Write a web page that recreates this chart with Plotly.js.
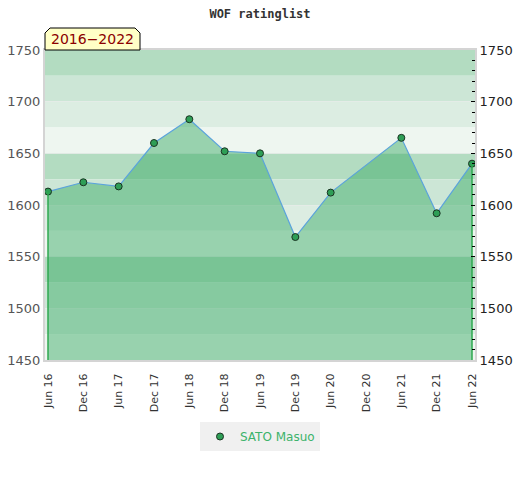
<!DOCTYPE html>
<html><head><meta charset="utf-8">
<script src="https://cdn.plot.ly/plotly-3.0.1.min.js"></script>
<style>html,body{margin:0;padding:0;background:#fff}#c{width:520px;height:480px}</style>
</head><body><div id="c"></div>
<script>
const periods = ['Jun 16','Dec 16','Jun 17','Dec 17','Jun 18','Dec 18','Jun 19','Dec 19','Jun 20','Dec 20','Jun 21','Dec 21','Jun 22'];
const ratings = [1613, 1622, 1618, 1660, 1683, 1652, 1650, 1569, 1612, null, 1665, 1592, 1640];
const playerName = 'SATO Masuo';
const chartTitle = 'WOF ratinglist';
const periodLabel = '2016−2022';
const yTicks = [1450, 1500, 1550, 1600, 1650, 1700, 1750];
const yMin = 1450, yMax = 1750;

const bandColors = ['#b3dcc1', '#cce6d6', '#dcede2', '#eef6f0'];
const shapes = [];
let k = 0;
for (let top = yMax; top > yMin; top -= 25) {
  shapes.push({type:'rect', xref:'paper', yref:'y', x0:0, x1:1, y0:top-25, y1:top,
    fillcolor: bandColors[k % 4], line:{width:0}, layer:'below'});
  k++;
}
// label tab with chamfered top corners (pixels -> paper)
const L = 45, R = 475, T = 50, B = 360;
const px = x => (x - L) / (R - L);
const py = y => (B - y) / (B - T);
shapes.push({type:'path', xref:'paper', yref:'paper',
  path: `M ${px(45)},${py(50)} L ${px(45)},${py(33)} L ${px(50)},${py(28)} L ${px(135)},${py(28)} L ${px(140)},${py(33)} L ${px(140)},${py(50)} Z`,
  fillcolor:'#ffffc6', line:{color:'#000', width:1}});

const first = 0, last = periods.length - 1;
const traces = [
  {x: periods, y: ratings, type:'scatter', mode:'lines+markers', name: playerName,
   connectgaps:true, fill:'tozeroy', fillcolor:'rgba(55,169,99,0.47)',
   line:{color:'#5ba3dc', width:1.2},
   marker:{color:'#2e9e56', size:7, line:{color:'#1a3322', width:1}}, showlegend:false},
  {x:[periods[first], periods[first]], y:[yMin, ratings[first]], type:'scatter', mode:'lines',
   line:{color:'#2ea84f', width:1.5}, showlegend:false, hoverinfo:'skip'},
  {x:[periods[last], periods[last]], y:[yMin, ratings[last]], type:'scatter', mode:'lines',
   line:{color:'#2ea84f', width:1.5}, showlegend:false, hoverinfo:'skip'},
  {x:[periods[first]], y:[null], type:'scatter', mode:'markers', name: playerName,
   marker:{color:'#2e9e56', size:7, line:{color:'#1a3322', width:1}}, showlegend:true},
  {x:[periods[first]], y:[ratings[first]], yaxis:'y2', type:'scatter', mode:'markers',
   marker:{opacity:0}, showlegend:false, hoverinfo:'skip'}
];

const layout = {
  width:520, height:480,
  margin:{l:45, r:45, t:50, b:120},
  paper_bgcolor:'#fff', plot_bgcolor:'#fff',
  title:{text:chartTitle, x:0.5, xanchor:'center', y:0.972, yanchor:'middle',
    font:{family:'DejaVu Sans Mono', size:12, color:'#333', weight:'bold'}},
  showlegend:true,
  legend:{orientation:'h', x:0.5, xanchor:'center', y:-0.2, yanchor:'top',
    bgcolor:'#f0f0f0', font:{family:'DejaVu Sans', size:12, color:'#3cb36b'},
    itemwidth:20},
  xaxis:{type:'category', range:[-0.085, last + 0.085], tickangle:-90,
    tickfont:{family:'DejaVu Sans', size:11, color:'#333'}, ticks:'', ticklabelstandoff:7,
    showgrid:false, showline:true, linecolor:'#d4d4d4', linewidth:2, mirror:true,
    fixedrange:true},
  yaxis:{range:[yMin, yMax], tickvals:yTicks, ticks:'', showgrid:true,
    gridcolor:'rgba(230,235,232,0.8)', gridwidth:1,
    tickfont:{family:'DejaVu Sans', size:13, color:'#555'}, zeroline:false,
    showline:true, linecolor:'#d4d4d4', linewidth:2},
  yaxis2:{range:[yMin, yMax], tickvals:yTicks, overlaying:'y', side:'right',
    ticks:'inside', ticklen:4, tickcolor:'#000', showgrid:false, zeroline:false,
    minor:{dtick:10, ticks:'inside', ticklen:3, tickcolor:'#000', showgrid:false},
    tickfont:{family:'DejaVu Sans', size:13, color:'#222'},
    showline:true, linecolor:'#d4d4d4', linewidth:2},
  shapes: shapes,
  annotations:[{xref:'paper', yref:'paper', x:px(92.5), y:py(39.5), text:periodLabel,
    showarrow:false, xanchor:'center', yanchor:'middle',
    font:{family:'DejaVu Sans', size:14, color:'#8b0000'}}]
};
Plotly.newPlot('c', traces, layout, {staticPlot:true});
</script></body></html>
